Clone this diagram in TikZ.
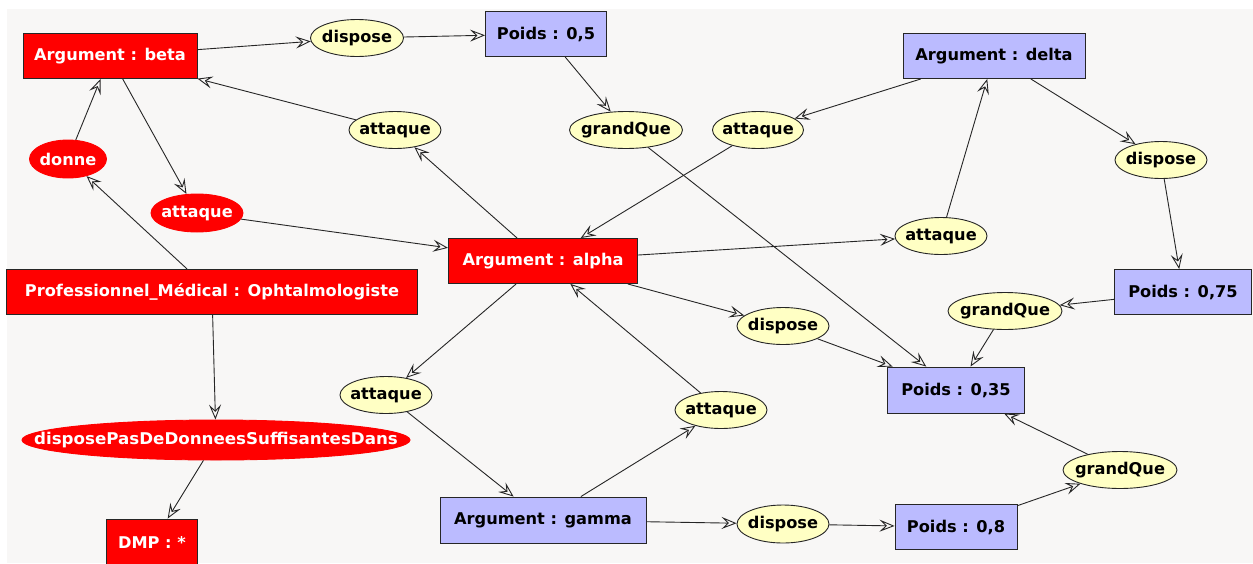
\documentclass[tikz,border=0pt]{standalone}
\usepackage{fontspec}
\setmainfont{DejaVu Sans}
\usetikzlibrary{shapes.geometric,arrows.meta}
\definecolor{bg}{HTML}{F8F7F6}
\definecolor{redn}{HTML}{FF0000}
\definecolor{bluen}{HTML}{BBBBFF}
\definecolor{yelln}{HTML}{FFFFC4}
\newcommand{\zw}[1]{\makebox[0pt]{#1}}
\tikzset{
  base/.style={draw=black!85, line width=0.9pt, inner sep=0pt, font=\fontsize{16.2}{19}\selectfont\bfseries},
  redbox/.style={base, rectangle, fill=redn, text=white, minimum height=45pt},
  bluebox/.style={base, rectangle, fill=bluen, text=black, minimum height=45pt},
  redell/.style={base, ellipse, draw=redn, fill=redn, text=white, minimum height=38pt},
  yell/.style={base, ellipse, fill=yelln, text=black, minimum height=37pt},
  conn/.style={draw=black!85, line width=0.9pt, -{Stealth[open,length=15pt,width=12pt,inset=6pt]}}
}
\begin{document}
\begin{tikzpicture}[x=1pt,y=-1pt]
\useasboundingbox (0,0) rectangle (1253,563);
\fill[white] (0,0) rectangle (1253,563);
\fill[bg] (7,9) rectangle (1253,563);
% nodes
\node[redbox, minimum width=174pt] (beta) at (110,56) {Argument : beta};
\node[yell, minimum width=93pt] (disp1) at (357,38) {\zw{dispose}};
\node[bluebox, minimum width=121pt] (p05) at (546,34) {Poids : 0,5};
\node[bluebox, minimum width=182pt] (delta) at (994,56) {Argument : delta};
\node[yell, minimum width=92pt] (att1) at (395,130) {\zw{attaque}};
\node[yell, minimum width=113pt] (gq1) at (626,130) {\zw{grandQue}};
\node[yell, minimum width=91pt] (att2) at (758,130) {\zw{attaque}};
\node[yell, minimum width=92pt] (disp2) at (1161,160) {\zw{dispose}};
\node[redell, minimum width=77pt] (donne) at (68,159) {\zw{donne}};
\node[redell, minimum width=92pt] (attr) at (197,213) {\zw{attaque}};
\node[yell, minimum width=92pt] (att3) at (941,236) {\zw{attaque}};
\node[redbox, minimum width=189pt] (alpha) at (543,261) {Argument : alpha};
\node[redbox, minimum width=411pt] (prof) at (212,292) {Professionnel\_Médical : Ophtalmologiste};
\node[bluebox, minimum width=137pt] (p075) at (1183,292) {Poids : 0,75};
\node[yell, minimum width=114pt] (gq2) at (1005,311) {\zw{grandQue}};
\node[yell, minimum width=92pt] (disp3) at (783,326) {\zw{dispose}};
\node[bluebox, minimum width=137pt, minimum height=46pt] (p035) at (956,390) {Poids : 0,35};
\node[yell, minimum width=92pt] (att4) at (386,395) {\zw{attaque}};
\node[yell, minimum width=92pt] (att5) at (721,410) {\zw{attaque}};
\node[redell, minimum width=388pt, minimum height=40pt] (dpas) at (216,440) {\zw{\scalebox{1.03}[1]{disposePasDeDonneesSuffisantesDans}}};
\node[yell, minimum width=114pt] (gq3) at (1120,470) {\zw{grandQue}};
\node[bluebox, minimum width=206pt, minimum height=46pt] (gamma) at (543,520) {Argument : gamma};
\node[yell, minimum width=92pt, minimum height=38pt] (disp4) at (783,524) {\zw{dispose}};
\node[bluebox, minimum width=122pt] (p08) at (956,527) {Poids : 0,8};
\node[redbox, minimum width=91pt, minimum height=50pt] (dmp) at (152,544) {\raisebox{3pt}{DMP : *}};
% connectors
\draw[conn] (beta) -- (disp1);
\draw[conn] (disp1) -- (p05);
\draw[conn] (p05) -- (gq1);
\draw[conn] (gq1) -- (p035);
\draw[conn] (att1) -- (beta);
\draw[conn] (alpha) -- (att1);
\draw[conn] (beta) -- (attr);
\draw[conn] (attr) -- (alpha);
\draw[conn] (donne) -- (beta);
\draw[conn] (prof) -- (donne);
\draw[conn] (prof) -- (dpas);
\draw[conn] (dpas) -- (dmp);
\draw[conn] (delta) -- (att2);
\draw[conn] (att2) -- (alpha);
\draw[conn] (alpha) -- (att3);
\draw[conn] (att3) -- (delta);
\draw[conn] (delta) -- (disp2);
\draw[conn] (disp2) -- (p075);
\draw[conn] (p075) -- (gq2);
\draw[conn] (gq2) -- (p035);
\draw[conn] (alpha) -- (disp3);
\draw[conn] (disp3) -- (p035);
\draw[conn] (alpha) -- (att4);
\draw[conn] (att4) -- (gamma);
\draw[conn] (gamma) -- (att5);
\draw[conn] (att5) -- (alpha);
\draw[conn] (gamma) -- (disp4);
\draw[conn] (disp4) -- (p08);
\draw[conn] (p08) -- (gq3);
\draw[conn] (gq3) -- (p035);
\end{tikzpicture}
\end{document}
